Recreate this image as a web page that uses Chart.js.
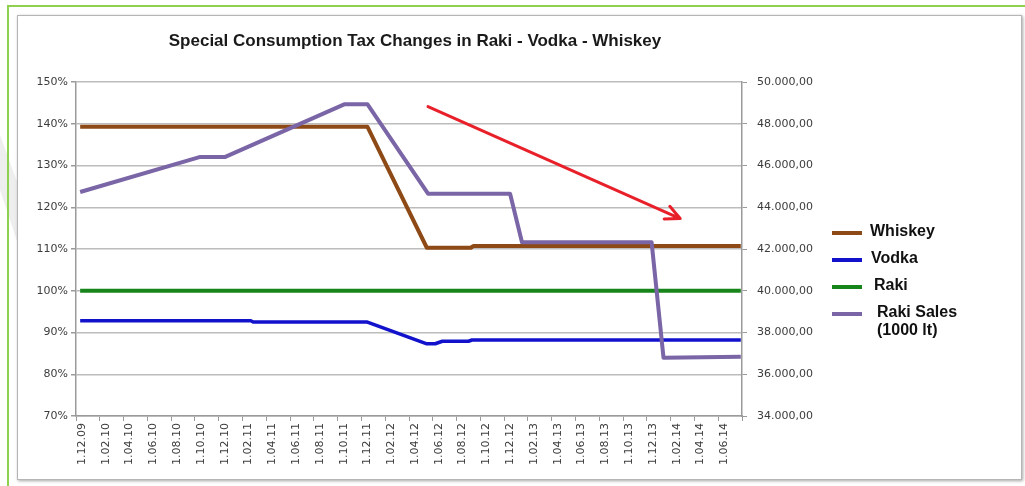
<!DOCTYPE html>
<html>
<head>
<meta charset="utf-8">
<title>Special Consumption Tax Changes</title>
<script src="https://cdn.jsdelivr.net/npm/chart.js@4.4.1/dist/chart.umd.min.js"></script>
<style>
  html, body { margin: 0; padding: 0; background: #fff; }
  .page { position: relative; width: 1025px; height: 486px; overflow: hidden; }
  .frame { position: absolute; left: 7px; top: 5px; width: 1100px; height: 600px;
           border-top: 2px solid #8fd14f; border-left: 2px solid #8fd14f; }
  .box { position: absolute; left: 17px; top: 15px; width: 1003px; height: 463px;
         border: 1px solid #b5b5b5; box-shadow: 1px 1px 3px rgba(0,0,0,0.35); background: #fff; }
  .mark { position: absolute; left: 0; top: 0; }
  canvas { position: absolute; left: 0; top: 0; }
  .title { position: absolute; left: 0; width: 830px; top: 31px; text-align: center;
           font: bold 17px "Liberation Sans", Arial, sans-serif; color: #1a1a1a; line-height: 20px; }
  .legend { position: absolute; left: 832px; top: 220px; font: bold 16px "Liberation Sans", Arial, sans-serif; color: #111; }
  .legend .item { position: relative; height: 27px; }
  .legend .swatch { position: absolute; left: 0; width: 30px; height: 4px; top: 11px; }
  .legend .text { position: absolute; left: 38px; top: 2px; line-height: 18px; white-space: nowrap; }
</style>
</head>
<body>
<div class="page">
  <svg class="mark" width="40" height="486">
    <polygon points="0,135 20,190 20,250 0,190" fill="#eeeeee"/>
  </svg>
  <div class="frame"></div>
  <div class="box"></div>
  <canvas id="taxChart" width="1025" height="486"></canvas>
  <div class="title">Special Consumption Tax Changes in Raki - Vodka - Whiskey</div>
  <div class="legend" id="legend"></div>
</div>
<script>
// x values are months counted from 1 Dec 2009
const tickLabels = ['1.12.09','1.02.10','1.04.10','1.06.10','1.08.10','1.10.10','1.12.10',
  '1.02.11','1.04.11','1.06.11','1.08.11','1.10.11','1.12.11','1.02.12','1.04.12','1.06.12',
  '1.08.12','1.10.12','1.12.12','1.02.13','1.04.13','1.06.13','1.08.13','1.10.13','1.12.13',
  '1.02.14','1.04.14','1.06.14'];

const whiskeyMonths = [0.35, 24.5, 29.5, 33.2, 33.4, 55.9];
const whiskeyTax    = [139.3, 139.3, 110.3, 110.3, 110.7, 110.7];

const vodkaMonths = [0.35, 14.7, 14.9, 24.5, 29.5, 30.2, 30.8, 33.0, 33.3, 55.9];
const vodkaTax    = [92.8, 92.8, 92.5, 92.5, 87.3, 87.3, 87.9, 87.9, 88.2, 88.2];

const rakiMonths = [0.35, 55.9];
const rakiTax    = [100, 100];

const salesMonths = [0.35, 10.45, 12.55, 22.6, 24.5, 29.6, 36.5, 37.5, 48.4, 49.4, 55.9];
const rakiSales   = [44730, 46410, 46410, 48940, 48940, 44650, 44650, 42320, 42320, 36790, 36840];

// trend arrow, from/to as [month, percent]
const trendArrow = [[29.6, 144.1], [50.8, 117.3]];

function points(xs, ys) {
  return xs.map((x, i) => ({ x: x, y: ys[i] }));
}

function formatThousands(v) {
  const s = Math.round(v).toString().replace(/\B(?=(\d{3})+(?!\d))/g, '.');
  return s + ',00';
}

const axisFont = { family: 'DejaVu Sans', size: 11 };
const axisColor = '#3c3c3c';

const arrowPlugin = {
  id: 'trendArrow',
  afterDatasetsDraw(chart) {
    const ctx = chart.ctx;
    const x = chart.scales.x, y = chart.scales.y;
    const x1 = x.getPixelForValue(trendArrow[0][0]), y1 = y.getPixelForValue(trendArrow[0][1]);
    const x2 = x.getPixelForValue(trendArrow[1][0]), y2 = y.getPixelForValue(trendArrow[1][1]);
    const a = Math.atan2(y2 - y1, x2 - x1);
    const head = 16;
    ctx.save();
    ctx.strokeStyle = '#e8202a';
    ctx.lineWidth = 3;
    ctx.lineCap = 'round';
    ctx.beginPath();
    ctx.moveTo(x1, y1);
    ctx.lineTo(x2, y2);
    ctx.moveTo(x2, y2);
    ctx.lineTo(x2 - head * Math.cos(a - 0.45), y2 - head * Math.sin(a - 0.45));
    ctx.moveTo(x2, y2);
    ctx.lineTo(x2 - head * Math.cos(a + 0.45), y2 - head * Math.sin(a + 0.45));
    ctx.stroke();
    ctx.restore();
  }
};

const chart = new Chart(document.getElementById('taxChart'), {
  type: 'line',
  data: {
    datasets: [
      { label: 'Whiskey', data: points(whiskeyMonths, whiskeyTax), borderColor: '#8e4a16', yAxisID: 'y', order: 2 },
      { label: 'Vodka', data: points(vodkaMonths, vodkaTax), borderColor: '#1212cc', yAxisID: 'y', order: 3, borderWidth: 3.5 },
      { label: 'Raki', data: points(rakiMonths, rakiTax), borderColor: '#17851a', yAxisID: 'y', order: 4 },
      { label: 'Raki Sales\n(1000 lt)', data: points(salesMonths, rakiSales), borderColor: '#7a65a6', yAxisID: 'y2', order: 1 }
    ]
  },
  options: {
    responsive: false,
    animation: false,
    events: [],
    elements: {
      line: { borderWidth: 4, tension: 0, borderJoinStyle: 'round', borderCapStyle: 'butt' },
      point: { radius: 0 }
    },
    layout: { padding: { left: 20, right: 183, top: 82, bottom: 0 } },
    plugins: {
      legend: { display: false },
      tooltip: { enabled: false }
    },
    scales: {
      x: {
        type: 'linear',
        min: 0,
        max: 56,
        afterBuildTicks: s => {
          s.ticks = tickLabels.map((_, i) => ({ value: i * 2 })).concat([{ value: 56 }]);
        },
        afterFit: s => { s.height = 70; },
        ticks: {
          autoSkip: false,
          minRotation: 90,
          maxRotation: 90,
          labelOffset: 6,
          padding: 2,
          color: axisColor,
          font: axisFont,
          callback: v => tickLabels[v / 2] || ''
        },
        grid: { drawOnChartArea: false, tickLength: 5, tickColor: '#9a9a9a' },
        border: { color: '#9a9a9a', width: 1.5 }
      },
      y: {
        position: 'left',
        min: 70,
        max: 150,
        afterFit: s => { s.width = 56; },
        ticks: { stepSize: 10, padding: 3, color: axisColor, font: axisFont, callback: v => v + '%' },
        grid: { color: '#bcbcbc', lineWidth: 1.5, tickLength: 5, tickColor: '#9a9a9a' },
        border: { color: '#9a9a9a', width: 1.5 }
      },
      y2: {
        position: 'right',
        min: 34000,
        max: 50000,
        afterFit: s => { s.width = 100; },
        ticks: { stepSize: 2000, padding: 10, color: axisColor, font: axisFont, callback: v => formatThousands(v) },
        grid: { drawOnChartArea: false, tickLength: 5, tickColor: '#9a9a9a' },
        border: { color: '#9a9a9a', width: 1.5 }
      }
    }
  },
  plugins: [arrowPlugin]
});

// legend built from the datasets
const legend = document.getElementById('legend');
const textIndent = [38, 39, 42, 45];
chart.data.datasets.forEach((ds, i) => {
  const item = document.createElement('div');
  item.className = 'item';
  const sw = document.createElement('div');
  sw.className = 'swatch';
  sw.style.background = ds.borderColor;
  const tx = document.createElement('div');
  tx.className = 'text';
  tx.style.left = textIndent[i] + 'px';
  tx.innerHTML = ds.label.split('\n').join('<br>');
  item.appendChild(sw);
  item.appendChild(tx);
  legend.appendChild(item);
});
</script>
</body>
</html>
